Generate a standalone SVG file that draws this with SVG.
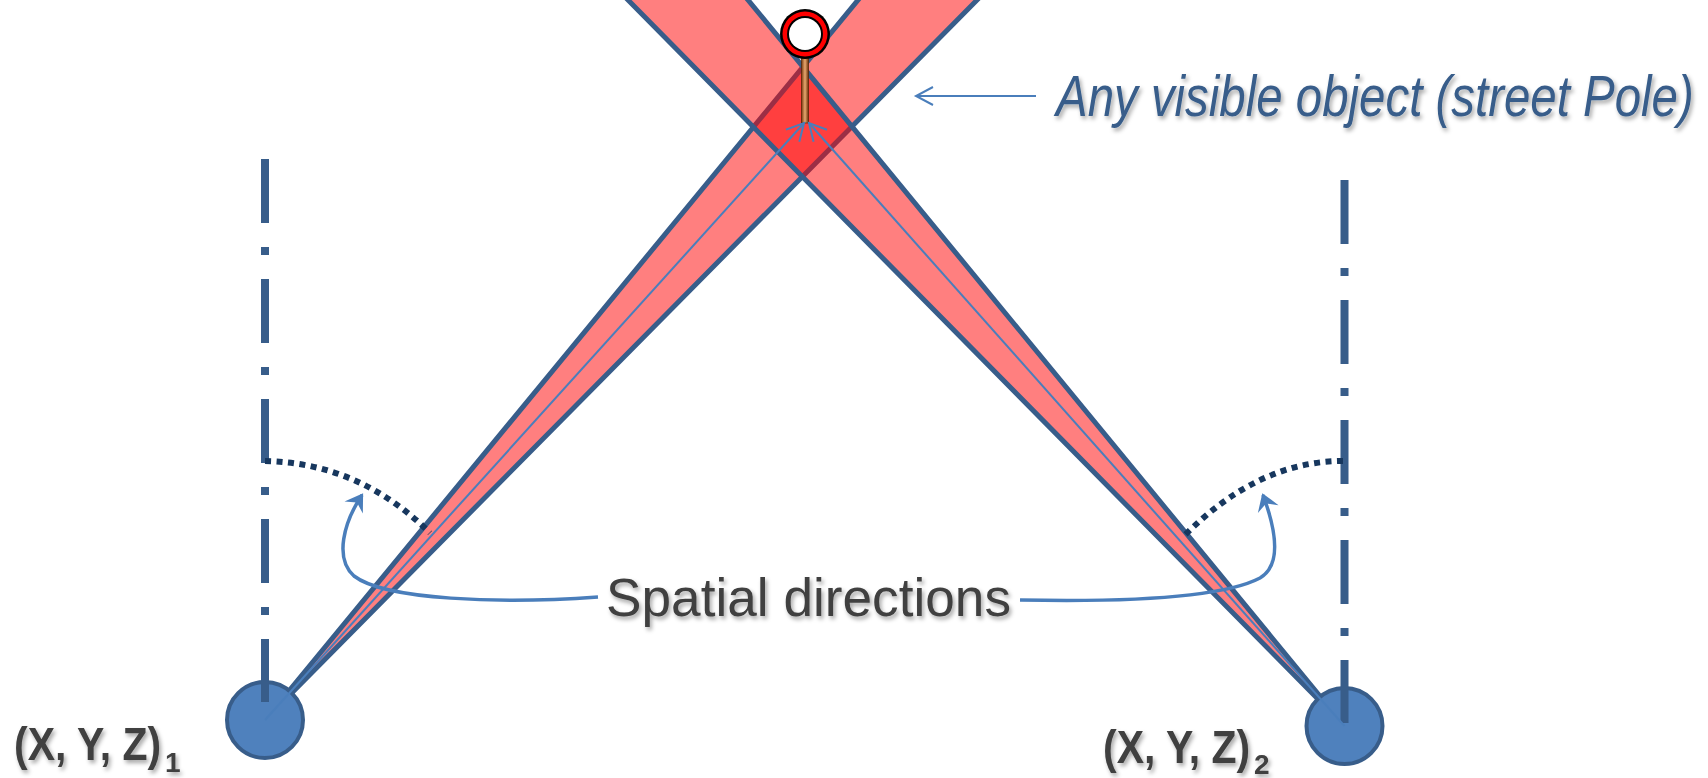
<svg xmlns="http://www.w3.org/2000/svg" width="1708" height="778" viewBox="0 0 1708 778">
<defs>
<style>
.beam{fill:#ff0000;fill-opacity:0.5;stroke:#385d8a;stroke-width:5;stroke-linejoin:round}
.ray{fill:none;stroke:#4a7ebb;stroke-width:2}
.axis{fill:none;stroke:#385d8a;stroke-width:8;stroke-dasharray:64 24 8 24}
.arc{fill:none;stroke:#17375e;stroke-width:6;stroke-dasharray:6 5.5}
.curve{fill:none;stroke:#4a7ebb;stroke-width:3.5}
.cam{fill:#4f81bd;stroke:#385d8a;stroke-width:4}
.lbl{font-family:"Liberation Sans",Arial,sans-serif;font-weight:bold;fill:#404040}
</style>
<marker id="openV" markerUnits="userSpaceOnUse" orient="auto" refX="0" refY="0" markerWidth="20" markerHeight="20" overflow="visible">
<path d="M-17,-9 L0,0 L-17,9" fill="none" stroke="#4a7ebb" stroke-width="2"/>
</marker>
<marker id="stealth" markerUnits="userSpaceOnUse" orient="auto" refX="0" refY="0" markerWidth="20" markerHeight="20" overflow="visible">
<path d="M2,0 L-15,-11 L-9,0 L-15,11 Z" fill="#4a7ebb"/>
</marker>
<linearGradient id="wood" x1="0" y1="0" x2="1" y2="0">
<stop offset="0" stop-color="#7a3b10"/>
<stop offset="0.5" stop-color="#e8a870"/>
<stop offset="1" stop-color="#6b3008"/>
</linearGradient>
<filter id="sh" x="-10%" y="-30%" width="120%" height="160%">
<feDropShadow dx="2" dy="3" stdDeviation="2" flood-color="#000" flood-opacity="0.35"/>
</filter>
</defs>
<rect width="1708" height="778" fill="#ffffff"/>

<g id="beam-left">
<polygon class="beam" points="265,720 874.5,-20 996.8,-20"/>
</g>
<g id="beam-right">
<polygon class="beam" points="1344.5,726 608.3,-20 731.6,-20"/>
</g>

<g id="pole">
<rect x="801.5" y="58" width="7" height="65" fill="url(#wood)" stroke="#5a2a08" stroke-width="0.8"/>
<circle cx="805" cy="34" r="25" fill="#000"/>
<circle cx="805" cy="34" r="22.5" fill="#ff0000"/>
<circle cx="805" cy="34" r="18" fill="#000"/>
<circle cx="805" cy="34" r="16" fill="#ffffff"/>
</g>

<g id="camera-1">
<circle class="cam" cx="265" cy="720" r="38"/>
<line class="axis" x1="265" y1="159" x2="265" y2="702"/>
</g>
<g id="camera-2">
<circle class="cam" cx="1344.5" cy="726" r="38"/>
<line class="axis" x1="1344.5" y1="180" x2="1344.5" y2="723"/>
</g>

<g id="connectors">
<line class="ray" x1="265" y1="720" x2="804" y2="123" marker-end="url(#openV)"/>
<line class="ray" x1="1344.5" y1="726" x2="809" y2="123" marker-end="url(#openV)"/>
<line class="ray" x1="1036" y1="96" x2="916" y2="96" marker-end="url(#openV)"/>
<path class="arc" d="M265,461 Q360,463 430,533"/>
<path class="arc" d="M1343,461 Q1257,461 1182,538"/>
<path class="curve" d="M598,597 C500,604 385,600 354,576 C334,558 344,522 362,495" marker-end="url(#stealth)"/>
<path class="curve" d="M1020,600 C1120,602 1222,598 1260,578 C1282,565 1276,530 1263,495" marker-end="url(#stealth)"/>
</g>

<g id="label-object" filter="url(#sh)">
<text transform="translate(1056,116) scale(0.832,1)" x="0" y="0" font-family="'Liberation Sans',Arial,sans-serif" font-style="italic" font-size="57" fill="#385d8a">Any visible object (street Pole)</text>
</g>
<g id="label-spatial" filter="url(#sh)">
<text x="606" y="616" font-family="'Liberation Sans',Arial,sans-serif" font-size="54" fill="#404040" textLength="405" lengthAdjust="spacingAndGlyphs">Spatial directions</text>
</g>
<g id="label-cam1" filter="url(#sh)">
<text class="lbl" transform="translate(14,760) scale(0.89,1)" x="0" y="0" font-size="46">(X, Y, Z)</text>
<text class="lbl" x="165" y="772" font-size="28" font-weight="normal">1</text>
</g>
<g id="label-cam2" filter="url(#sh)">
<text class="lbl" transform="translate(1103,763) scale(0.89,1)" x="0" y="0" font-size="46">(X, Y, Z)</text>
<text class="lbl" x="1254" y="774" font-size="28" font-weight="normal">2</text>
</g>
</svg>
